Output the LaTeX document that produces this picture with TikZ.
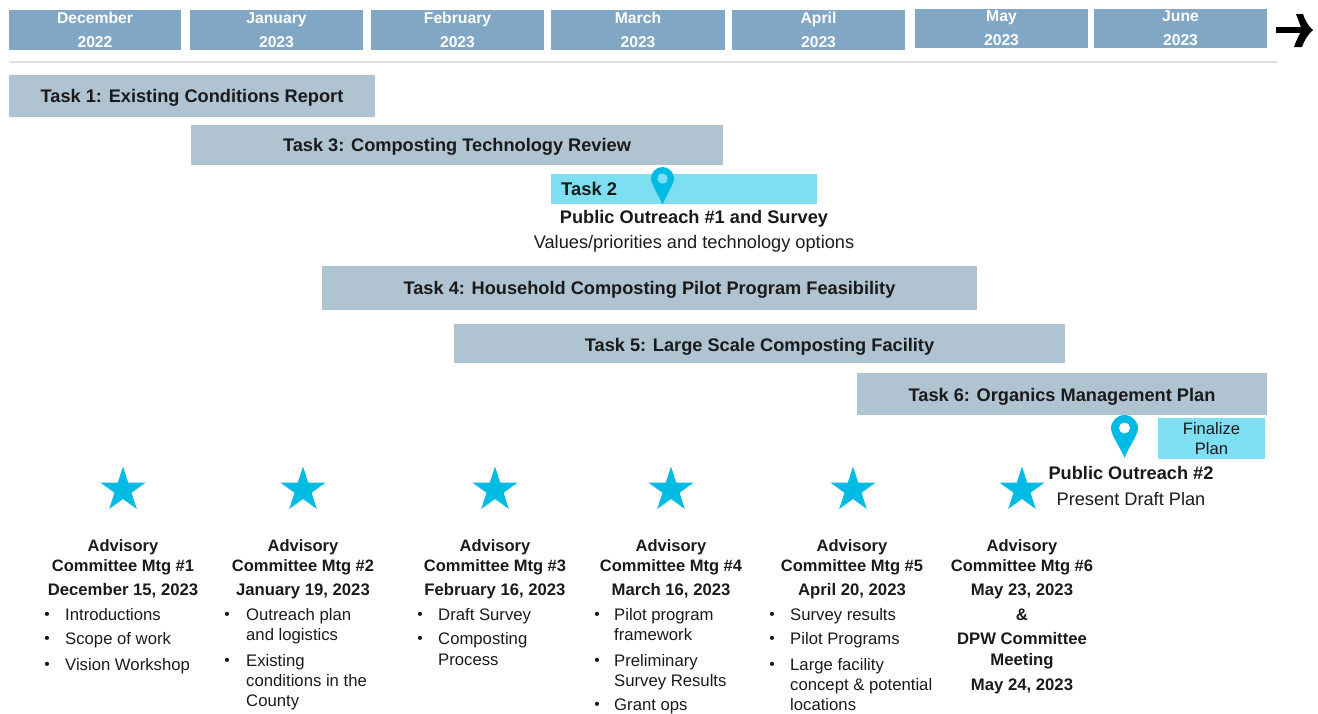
\documentclass[tikz,border=0pt]{standalone}
\usepackage{fontspec}
\setmainfont{Liberation Sans}
\usetikzlibrary{shapes.geometric}
\definecolor{hdr}{HTML}{81A7C5}
\definecolor{tsk}{HTML}{AFC3D1}
\definecolor{cyn}{HTML}{7FDFF2}
\definecolor{pinc}{HTML}{00BCE4}
\definecolor{ink}{HTML}{1A1A1A}
\tikzset{
  monthbox/.style={fill=hdr,text=white,font=\fontsize{15.7}{24}\selectfont\bfseries,align=center},
  taskbox/.style={fill=tsk,text=ink,font=\fontsize{18.2}{20}\selectfont\bfseries,text height=13.5pt,text depth=0pt},
  cyanbox/.style={fill=cyn,text=ink,font=\fontsize{16.6}{20.5}\selectfont,align=center},
  bline/.style={anchor=base,inner sep=0pt,text=ink,font=\fontsize{16.5}{18}\selectfont\bfseries},
  dline/.style={bline,font=\fontsize{16.7}{18}\selectfont\bfseries},
  hline/.style={bline,font=\fontsize{18.2}{20}\selectfont\bfseries},
  pline/.style={anchor=base,inner sep=0pt,text=ink,font=\fontsize{18.2}{20}\selectfont},
  lline/.style={anchor=base west,inner sep=0pt,text=ink,font=\fontsize{16.7}{18}\selectfont},
  dotn/.style={anchor=base,inner sep=0pt,text=ink,font=\fontsize{15.5}{18}\selectfont},
  starn/.style={star,star points=5,star point ratio=2.618,fill=pinc,inner sep=0pt,minimum size=47pt}
}
% name, style, x1, y1, x2, y2, text
\newcommand\boxn[7]{%
  \pgfmathsetmacro\bw{#5-#3}\pgfmathsetmacro\bh{#6-#4}%
  \node[#2,inner sep=0pt,minimum width=\bw pt,minimum height=\bh pt] (#1) at ({(#3+#5)/2},{(#4+#6)/2}) {#7};}
% cx, top, r, height, holecolour, hole r, hole cy
\newcommand\pinmark[7]{%
  \begin{scope}[shift={(#1,#2)}]
  \fill[pinc] (0,#4) .. controls ({-.3*#3},{.75*#4}) and ({-#3},{1.5*#3}) .. ({-#3},#3)
    .. controls ({-#3},{.45*#3}) and ({-.55*#3},0) .. (0,0)
    .. controls ({.55*#3},0) and (#3,{.45*#3}) .. (#3,#3)
    .. controls (#3,{1.5*#3}) and ({.3*#3},{.75*#4}) .. (0,#4) -- cycle;
  \fill[#5] (0,#7) circle[radius=#6 pt];
  \end{scope}}
\begin{document}
\begin{tikzpicture}[x=1pt,y=-1pt]
\path[use as bounding box] (0,0) rectangle (1318,713);
% months
\boxn{m1}{monthbox}{9}{10}{181}{50}{December\\2022}
\boxn{m2}{monthbox}{190}{10}{363}{50}{January\\2023}
\boxn{m3}{monthbox}{371}{10}{544}{50}{February\\2023}
\boxn{m4}{monthbox}{551}{10}{725}{50}{March\\2023}
\boxn{m5}{monthbox}{732}{10}{905}{50}{April\\2023}
\boxn{m6}{monthbox}{915}{9}{1088}{48}{May\\2023}
\boxn{m7}{monthbox}{1094}{9}{1267}{48}{June\\2023}
% timeline arrow and rule
\draw[line width=6.5pt] (1276,30) -- (1306,30);
\fill (1296,14) -- (1303,14) .. controls (1305,20) and (1308,26) .. (1313,30)
  .. controls (1308,34) and (1304,41) .. (1302,47) -- (1294,47)
  .. controls (1296,41) and (1299,35) .. (1302,30)
  .. controls (1300,25) and (1298,19) .. (1296,14) -- cycle;
\draw[line width=1.2pt,color=black!12] (9,62) -- (1277,62);
% tasks
\boxn{t1}{taskbox}{9}{75}{375}{117}{Task 1: Existing Conditions Report}
\boxn{t3}{taskbox}{191}{125}{723}{165}{Task 3: Composting Technology Review}
\boxn{t2}{cyanbox}{551}{174}{817}{204}{}
\node[anchor=base west,inner sep=0pt,text=ink,font=\fontsize{18.4}{20}\selectfont\bfseries] (t2l) at (561,195) {Task 2};
\pinmark{662.5}{167}{11.5}{38}{cyn}{5.2}{11.5}
\node[hline] (po1) at (694,223) {Public Outreach \#1 and Survey};
\node[pline] (po1b) at (694,248) {Values/priorities and technology options};
\boxn{t4}{taskbox}{322}{266}{977}{310}{Task 4: Household Composting Pilot Program Feasibility}
\boxn{t5}{taskbox,text height=16.5pt}{454}{324}{1065}{363}{Task 5: Large Scale Composting Facility}
\boxn{t6}{taskbox,text height=15.5pt}{857}{373}{1267}{415}{Task 6: Organics Management Plan}
\boxn{fin}{cyanbox}{1158}{418}{1265}{459}{Finalize\\Plan}
\pinmark{1124.5}{415}{13.5}{43}{white}{5.5}{13}
\node[hline] (po2) at (1131,479) {Public Outreach \#2};
\node[pline] (po2b) at (1131,505) {Present Draft Plan};
% stars
\node[starn] (s1) at (123,490) {};
\node[starn] (s2) at (303,490) {};
\node[starn] (s3) at (495,490) {};
\node[starn] (s4) at (671,490) {};
\node[starn] (s5) at (853,490) {};
\node[starn] (s6) at (1022,490) {};
% meeting 1
\node[bline] (a1) at (123,551) {Advisory};
\node[bline] (b1) at (123,571) {Committee Mtg \#1};
\node[dline] (c1) at (123,595) {December 15, 2023};
\node[dotn] (d1a) at (47,619) {•}; \node[lline] (e1a) at (65,620) {Introductions};
\node[dotn] (d1b) at (47,643) {•}; \node[lline] (e1b) at (65,644) {Scope of work};
\node[dotn] (d1c) at (47,669) {•}; \node[lline] (e1c) at (65,670) {Vision Workshop};
% meeting 2
\node[bline] (a2) at (303,551) {Advisory};
\node[bline] (b2) at (303,571) {Committee Mtg \#2};
\node[dline] (c2) at (303,595) {January 19, 2023};
\node[dotn] (d2a) at (227,619) {•}; \node[lline] (e2a) at (246,620) {Outreach plan};
\node[lline] (e2b) at (246,640) {and logistics};
\node[dotn] (d2c) at (227,665) {•}; \node[lline] (e2c) at (246,666) {Existing};
\node[lline] (e2d) at (246,686) {conditions in the};
\node[lline] (e2e) at (246,706) {County};
% meeting 3
\node[bline] (a3) at (495,551) {Advisory};
\node[bline] (b3) at (495,571) {Committee Mtg \#3};
\node[dline] (c3) at (495,595) {February 16, 2023};
\node[dotn] (d3a) at (420,619) {•}; \node[lline] (e3a) at (438,620) {Draft Survey};
\node[dotn] (d3b) at (420,643) {•}; \node[lline] (e3b) at (438,644) {Composting};
\node[lline] (e3c) at (438,665) {Process};
% meeting 4
\node[bline] (a4) at (671,551) {Advisory};
\node[bline] (b4) at (671,571) {Committee Mtg \#4};
\node[dline] (c4) at (671,595) {March 16, 2023};
\node[dotn] (d4a) at (597,619) {•}; \node[lline] (e4a) at (614,620) {Pilot program};
\node[lline] (e4b) at (614,640) {framework};
\node[dotn] (d4c) at (597,665) {•}; \node[lline] (e4c) at (614,666) {Preliminary};
\node[lline] (e4d) at (614,686) {Survey Results};
\node[dotn] (d4e) at (597,709) {•}; \node[lline] (e4e) at (614,710) {Grant ops};
% meeting 5
\node[bline] (a5) at (852,551) {Advisory};
\node[bline] (b5) at (852,571) {Committee Mtg \#5};
\node[dline] (c5) at (852,595) {April 20, 2023};
\node[dotn] (d5a) at (772,619) {•}; \node[lline] (e5a) at (790,620) {Survey results};
\node[dotn] (d5b) at (772,643) {•}; \node[lline] (e5b) at (790,644) {Pilot Programs};
\node[dotn] (d5c) at (772,669) {•}; \node[lline] (e5c) at (790,670) {Large facility};
\node[lline] (e5d) at (790,690) {concept \& potential};
\node[lline] (e5e) at (790,710) {locations};
% meeting 6
\node[bline] (a6) at (1022,551) {Advisory};
\node[bline] (b6) at (1022,571) {Committee Mtg \#6};
\node[dline] (c6) at (1022,595) {May 23, 2023};
\node[dline] (f6) at (1022,620) {\&};
\node[dline] (g6) at (1022,644) {DPW Committee};
\node[dline] (h6) at (1022,665) {Meeting};
\node[dline] (i6) at (1022,690) {May 24, 2023};
\end{tikzpicture}
\end{document}
